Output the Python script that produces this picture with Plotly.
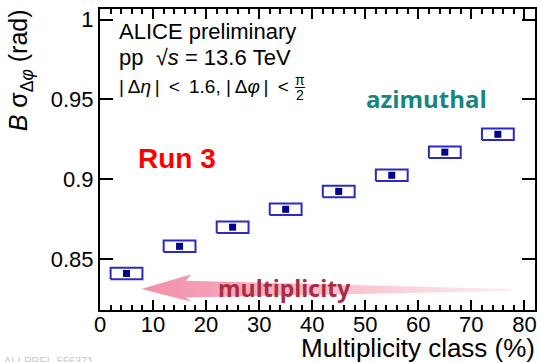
import plotly.graph_objects as go

# Multiplicity classes (%) and azimuthal width B*sigma_dphi (rad)
mult_class = [5, 15, 25, 35, 45, 55, 65, 75]
sigma_dphi = [0.8410, 0.8580, 0.8700, 0.8812, 0.8924, 0.9025, 0.9170, 0.9282]
class_half_width = [3, 3, 3, 3, 3, 3, 3, 3]
sys_unc = [0.0036, 0.0036, 0.0036, 0.0036, 0.0036, 0.0036, 0.0036, 0.0036]

x_ticks = [0, 10, 20, 30, 40, 50, 60, 70, 80]
y_ticks = [0.85, 0.9, 0.95, 1.0]
y_tick_text = ["0.85", "0.9", "0.95", "1"]

W, H = 540, 362
L, R, T, B = 100, 3, 9, 52
PW, PH = W - L - R, H - T - B
NB = "\u00a0"
TH = "\u2009"


def px(xp):
    return (xp - L) / PW


def py(yp):
    return 1 - (yp - T) / PH


FONT = "Liberation Sans, Arial, sans-serif"

fig = go.Figure()

# "multiplicity" arrow pointing towards high multiplicity (low class %)
arrow_x = [7.8, 17.2, 16.2, 77.4, 77.4, 16.2, 17.2, 7.8]
arrow_y = [0.8312, 0.8405, 0.8364, 0.8312, 0.8300, 0.8260, 0.8232, 0.8312]
fig.add_trace(go.Scatter(
    x=arrow_x, y=arrow_y, mode="lines", fill="toself",
    line=dict(width=0, color="rgba(0,0,0,0)"),
    fillgradient=dict(type="horizontal", colorscale=[
        [0.0, "rgba(238,100,135,0.72)"],
        [0.35, "rgba(238,105,140,0.55)"],
        [1.0, "rgba(245,140,165,0.18)"],
    ]),
    hoverinfo="skip", showlegend=False,
))

# systematic-uncertainty boxes
bx, by = [], []
for xc, hw, yc, e in zip(mult_class, class_half_width, sigma_dphi, sys_unc):
    bx += [xc - hw, xc + hw, xc + hw, xc - hw, xc - hw, None]
    by += [yc - e, yc - e, yc + e, yc + e, yc - e, None]
fig.add_trace(go.Scatter(
    x=bx, y=by, mode="lines",
    line=dict(color="#2b2bbf", width=2),
    hoverinfo="skip", showlegend=False,
))

# data points
fig.add_trace(go.Scatter(
    x=mult_class, y=sigma_dphi, mode="markers",
    marker=dict(symbol="square", size=7, color="#00008f"),
    showlegend=False,
))

ann = []
ann.append(dict(x=px(117), y=py(31.5), text="ALICE preliminary",
                font=dict(family=FONT, size=22, color="black"),
                xanchor="left", yanchor="middle"))
ann.append(dict(x=px(117), y=py(57.5),
                text=f"pp{NB}{NB}√<i>s</i>{NB}={NB}13.6{NB}TeV",
                font=dict(family=FONT, size=22, color="black"),
                xanchor="left", yanchor="middle"))
ann.append(dict(x=px(117), y=py(86),
                text=(f"|{TH}Δ<i>η</i>{TH}|{NB}{TH}<{NB}{TH}1.6,{NB}"
                      f"|{TH}Δ<i>φ</i>{TH}|{NB}{TH}<"),
                font=dict(family=FONT, size=19, color="black"),
                xanchor="left", yanchor="middle"))
ann.append(dict(x=px(301), y=py(79.5), text="π",
                font=dict(family=FONT, size=14, color="black"),
                xanchor="center", yanchor="middle"))
ann.append(dict(x=px(301), y=py(95.5), text="2",
                font=dict(family=FONT, size=14, color="black"),
                xanchor="center", yanchor="middle"))
ann.append(dict(x=px(428), y=py(98.5), text="<b>azimuthal</b>",
                font=dict(family="Open Sans, sans-serif", size=24, color="#16867e"),
                xanchor="center", yanchor="middle"))
ann.append(dict(x=px(177), y=py(158), text="<b>Run 3</b>",
                font=dict(family=FONT, size=28, color="#ff0000"),
                xanchor="center", yanchor="middle"))
ann.append(dict(x=px(285), y=py(288), text="<b>multiplicity</b>",
                font=dict(family="Open Sans, sans-serif", size=23, color="#a82c42"),
                xanchor="center", yanchor="middle"))
ann.append(dict(x=px(539), y=py(348), text="Multiplicity class (%)",
                font=dict(family=FONT, size=26, color="black"),
                xanchor="right", yanchor="middle"))
ann.append(dict(x=px(20), y=py(70), text="<i>B</i> σ<sub>Δ<i>φ</i></sub> (rad)",
                textangle=-90,
                font=dict(family=FONT, size=25, color="black"),
                xanchor="center", yanchor="middle"))
ann.append(dict(x=px(2), y=py(361), text="ALI-PREL-556371",
                font=dict(family=FONT, size=11, color="#c8c8c8"),
                xanchor="left", yanchor="middle"))
for a in ann:
    a.update(xref="paper", yref="paper", showarrow=False)

shapes = [dict(type="line", xref="paper", yref="paper",
               x0=px(296), x1=px(306), y0=py(87.5), y1=py(87.5),
               line=dict(color="black", width=1))]

fig.update_layout(
    width=W, height=H,
    margin=dict(l=L, r=R, t=T, b=B, pad=0),
    paper_bgcolor="white", plot_bgcolor="white",
    annotations=ann, shapes=shapes,
    xaxis=dict(
        range=[0, 82], tickvals=x_ticks, ticks="inside", ticklen=10,
        tickwidth=1.5, tickcolor="black", showline=True, linewidth=2,
        linecolor="black", mirror="allticks", showgrid=False, zeroline=False,
        tickfont=dict(family=FONT, size=22, color="black"),
        ticklabelstandoff=-6,
        minor=dict(dtick=2, ticks="inside", ticklen=5, tickwidth=1.5,
                   tickcolor="black", showgrid=False),
    ),
    yaxis=dict(
        range=[0.8181, 1.0067], tickvals=y_ticks, ticktext=y_tick_text,
        ticks="inside", ticklen=13, tickwidth=1.5, tickcolor="black",
        showline=True, linewidth=2, linecolor="black", mirror="allticks",
        showgrid=False, zeroline=False,
        tickfont=dict(family=FONT, size=22, color="black"),
    ),
)

fig.write_html("out.html")
